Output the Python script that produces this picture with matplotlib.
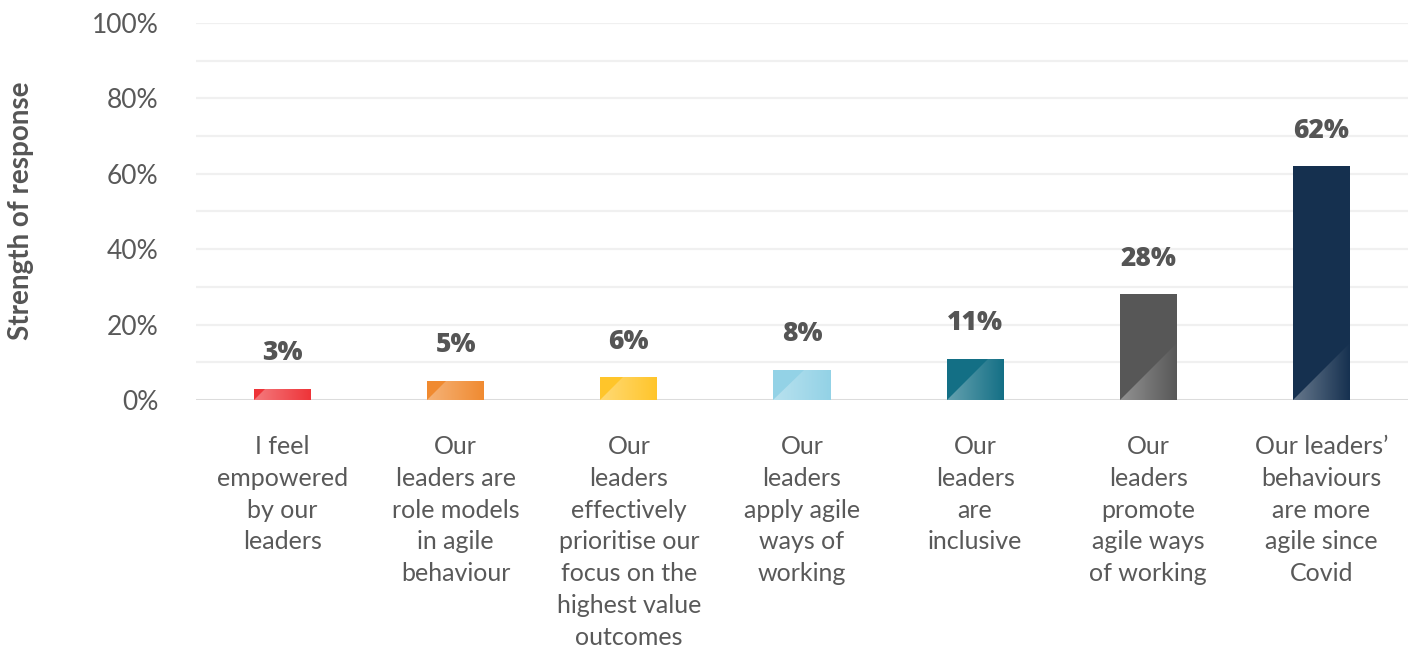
import matplotlib.pyplot as plt
import matplotlib.colors as mcolors
import numpy as np
from matplotlib.patches import Polygon

plt.rcParams['font.family'] = ['Lato', 'DejaVu Sans']

categories = [
    "I feel\nempowered\nby our\nleaders",
    "Our\nleaders are\nrole models\nin agile\nbehaviour",
    "Our\nleaders\neffectively\nprioritise our\nfocus on the\nhighest value\noutcomes",
    "Our\nleaders\napply agile\nways of\nworking",
    "Our\nleaders\nare\ninclusive",
    "Our\nleaders\npromote\nagile ways\nof working",
    "Our leaders’\nbehaviours\nare more\nagile since\nCovid",
]
values = [3, 5, 6, 8, 11, 28, 62]
colors = ["#EE3338", "#F08A30", "#FFC52A", "#93D2E6", "#136F85", "#575757", "#15304F"]

fig = plt.figure(figsize=(14.15, 6.47), dpi=100)
# left, bottom, width, height
ax = fig.add_axes([0.1385, 0.3818, 0.8565, 0.5827])

x = np.arange(len(values))
width = 0.33
bars = ax.bar(x, values, width=width, color=colors, zorder=3)

ax.set_xlim(-0.5, len(values) - 0.5)
ax.set_ylim(0, 100)

# light gradient triangle in the bottom-left of every bar
ax_h_px = 0.5827 * 647
tri_h = width * (0.8565 * 1415 / 7) / (ax_h_px / 100)
for b, v, c in zip(bars, values, colors):
    x0 = b.get_x()
    x1 = x0 + width
    base = np.array(mcolors.to_rgb(c))
    light = base + (1 - base) * 0.35
    grad = np.linspace(0, 1, 64)
    img = light[None, :] * (1 - grad[:, None]) + base[None, :] * grad[:, None]
    img = img[None, :, :]
    top = min(v, tri_h)
    xt = x0 + (top / tri_h) * width
    poly = Polygon([(x0, 0), (x1, 0), (x1, top), (xt, top)], closed=True,
                   transform=ax.transData, facecolor='none', edgecolor='none')
    im = ax.imshow(img, extent=[x0, x1, 0, top], aspect='auto', zorder=4,
                   origin='lower')
    im.set_clip_path(poly)
    ax.text(b.get_x() + width / 2, v + 7.6, f"{v}%", ha='center', va='baseline',
            fontsize=19, fontweight='heavy', family=['Open Sans', 'DejaVu Sans'],
            color='#555555', zorder=5)

ax.set_ylim(0, 100)
ax.set_xlim(-0.5, len(values) - 0.5)

for g in range(10, 101, 10):
    ax.axhline(g, color='#F0F0F0', lw=1.6, zorder=1)
ax.axhline(0, color='#DCDCDC', lw=2.2, zorder=2)

ax.set_yticks(range(0, 101, 20))
ax.set_yticklabels([f"{t}%" for t in range(0, 101, 20)])
ax.set_xticks(x)
ax.set_xticklabels(categories, linespacing=1.47, va='top')
ax.tick_params(axis='y', length=0, pad=27, labelsize=19, labelcolor='#595959')
ax.tick_params(axis='x', length=0, pad=25, labelsize=18, labelcolor='#595959')
for s in ax.spines.values():
    s.set_visible(False)

fig.text(0.0145, 0.675, "Strength of response", rotation=90, ha='center', va='center',
         fontsize=20, fontweight='bold', color='#555555')

fig.savefig("out.png", dpi=100, facecolor='white')
